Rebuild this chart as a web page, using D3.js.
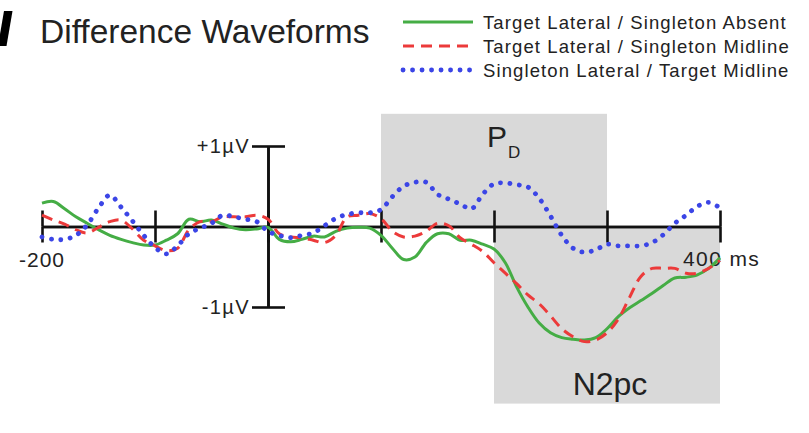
<!DOCTYPE html>
<html><head><meta charset="utf-8">
<script src="https://cdn.jsdelivr.net/npm/d3@7"></script>
<style>
html,body{margin:0;padding:0;background:#fff;}
svg{display:block;font-family:"Liberation Sans",Arial,Helvetica,sans-serif;}
</style></head>
<body>
<svg id="chart" width="809" height="433"></svg>
<script>
const times = [-200,-190,-180,-170,-160,-150,-140,-130,-120,-110,-100,-90,-80,-70,-60,-50,-40,-30,-20,-10,
  0,10,20,30,40,50,60,70,80,90,100,110,120,130,140,150,160,170,180,190,200,210,220,230,240,250,260,270,280,290,
  300,310,320,330,340,350,360,370,380,390,400];
const absentValues = [0.29,0.31,0.22,0.12,0.04,-0.04,-0.11,-0.16,-0.20,-0.23,-0.23,-0.17,-0.09,0.09,0.06,0.08,0.03,-0.02,-0.04,-0.03,
  -0.01,-0.16,-0.19,-0.16,-0.12,-0.13,-0.06,-0.02,-0.01,-0.02,-0.11,-0.27,-0.41,-0.38,-0.20,-0.09,-0.09,-0.17,-0.17,-0.22,
  -0.28,-0.45,-0.75,-1.00,-1.20,-1.32,-1.38,-1.40,-1.41,-1.38,-1.27,-1.12,-1.01,-0.92,-0.83,-0.73,-0.64,-0.63,-0.60,-0.52,-0.39];
const midlineValues = [0.14,0.08,0.03,-0.04,-0.08,-0.01,0.06,0.08,-0.03,-0.17,-0.24,-0.30,-0.27,-0.04,0.06,0.06,0.12,0.12,0.12,0.14,
  0.09,-0.09,-0.13,-0.14,-0.17,-0.20,-0.11,0.12,0.14,0.16,0.10,-0.06,-0.13,-0.12,-0.06,0.04,0.01,-0.14,-0.22,-0.31,
  -0.45,-0.58,-0.71,-0.85,-0.96,-1.11,-1.27,-1.37,-1.43,-1.41,-1.32,-1.15,-0.88,-0.62,-0.52,-0.52,-0.52,-0.58,-0.58,-0.52,-0.42];
const singletonValues = [-0.13,-0.16,-0.16,-0.11,0.02,0.23,0.39,0.24,0.07,-0.11,-0.26,-0.34,-0.24,-0.09,-0.02,0.04,0.14,0.12,0.09,0.06,
  -0.06,-0.11,-0.14,-0.11,-0.08,0.01,0.10,0.15,0.17,0.17,0.21,0.37,0.50,0.55,0.55,0.40,0.34,0.28,0.22,0.40,
  0.53,0.54,0.52,0.49,0.35,0.13,-0.11,-0.27,-0.32,-0.29,-0.22,-0.24,-0.24,-0.24,-0.20,-0.10,0.04,0.14,0.25,0.30,0.23];
const seriesNames = ["Target Lateral / Singleton Absent","Target Lateral / Singleton Midline","Singleton Lateral / Target Midline"];
const xTicks = [-200,-100,0,100,200,300,400];
const yTicks = [-1,1];
const yTickLabels = ["-1\u00b5V","+1\u00b5V"];
const windows = [{name:"PD", from:100, to:300, top:1.4, bottom:0},{name:"N2pc", from:200, to:400, top:0, bottom:-2.2}];

const svg = d3.select("#chart");
const x = d3.scaleLinear().domain([-200,400]).range([42,720]);
const y = d3.scaleLinear().domain([-1,1]).range([307,146]);

const styles = [
  {color:"#45ad45", dash:null, width:3, cap:"butt"},
  {color:"#ec3a3a", dash:"11 7", width:3, cap:"butt"},
  {color:"#3b45e6", dash:"0.1 9.4", width:4.8, cap:"round"}
];
const series = [absentValues, midlineValues, singletonValues];

// shaded component windows
svg.selectAll("rect.win").data(windows).enter().append("rect")
  .attr("class","win")
  .attr("x", d=>x(d.from)).attr("width", d=>x(d.to)-x(d.from))
  .attr("y", d=>y(d.top)).attr("height", d=>y(d.bottom)-y(d.top))
  .attr("fill","#d9d9d9");

// axes
const ax = svg.append("g");
const styleAxis = g => { g.selectAll("path,line").attr("stroke","#111").attr("stroke-width",2.6); };
ax.append("g").attr("transform",`translate(0,${y(0)})`)
  .call(d3.axisBottom(x).tickValues(xTicks).tickSize(16).tickSizeOuter(0).tickFormat("")).call(styleAxis);
ax.append("g").attr("transform",`translate(0,${y(0)})`)
  .call(d3.axisTop(x).tickValues(xTicks).tickSize(16).tickSizeOuter(0).tickFormat("")).call(styleAxis);
const yl = ax.append("g").attr("transform",`translate(${x(0)},0)`)
  .call(d3.axisLeft(y).tickValues(yTicks).tickSize(16).tickSizeOuter(0).tickPadding(2)
    .tickFormat((d,i)=>yTickLabels[i])).call(styleAxis);
yl.selectAll("text").attr("font-size",20).attr("font-family","Liberation Sans, Arial, sans-serif")
  .attr("fill","#222").attr("letter-spacing",1.4);
ax.append("g").attr("transform",`translate(${x(0)},0)`)
  .call(d3.axisRight(y).tickValues(yTicks).tickSize(17).tickSizeOuter(0).tickFormat("")).call(styleAxis);

// x labels
svg.append("text").attr("x",x(-200)).attr("y",267).attr("text-anchor","middle")
  .attr("font-size",21).attr("letter-spacing",1).attr("fill","#222").text("-200");
svg.append("text").attr("x",x(400)-37).attr("y",266)
  .attr("font-size",21).attr("letter-spacing",1.4).attr("fill","#222").text("400 ms");

// waveforms
const line = d3.line().x((d,i)=>x(times[i])).y(d=>y(d)).curve(d3.curveCatmullRom.alpha(0.5));
svg.selectAll("path.wave").data(series).enter().append("path")
  .attr("class","wave")
  .attr("d", d=>line(d))
  .attr("fill","none")
  .attr("stroke",(d,i)=>styles[i].color)
  .attr("stroke-width",(d,i)=>styles[i].width)
  .attr("stroke-dasharray",(d,i)=>styles[i].dash)
  .attr("stroke-linecap",(d,i)=>styles[i].cap)
  .attr("stroke-linejoin","round");

// component labels
const pd = svg.append("text").attr("x",487).attr("y",147).attr("fill","#222");
pd.append("tspan").attr("font-size",30).text("P");
pd.append("tspan").attr("font-size",17).attr("dx",1).attr("dy",11).text("D");
svg.append("text").attr("x",610).attr("y",395).attr("text-anchor","middle")
  .attr("font-size",32).attr("fill","#222").text("N2pc");

// cropped panel-letter stroke at the left edge (drawn as a shape)
svg.append("path").attr("d","M4,11 L12.5,11 L6.5,46 L-2,46 Z").attr("fill","#000");
svg.append("text").attr("x",40).attr("y",43).attr("font-size",33.5).attr("fill","#222").text("Difference Waveforms");

// legend
const lg = svg.append("g");
const rows = lg.selectAll("g").data(seriesNames).enter().append("g")
  .attr("transform",(d,i)=>`translate(0,${22+i*24})`);
rows.append("line").attr("x1",403).attr("x2",473).attr("y1",0).attr("y2",0)
  .attr("stroke",(d,i)=>styles[i].color)
  .attr("stroke-width",(d,i)=>styles[i].width)
  .attr("stroke-dasharray",(d,i)=>styles[i].dash)
  .attr("stroke-linecap",(d,i)=>styles[i].cap);
rows.append("text").attr("x",483).attr("y",6.5).attr("font-size",18.5).attr("letter-spacing",1.1)
  .attr("fill","#222").text(d=>d);
</script>
</body></html>
